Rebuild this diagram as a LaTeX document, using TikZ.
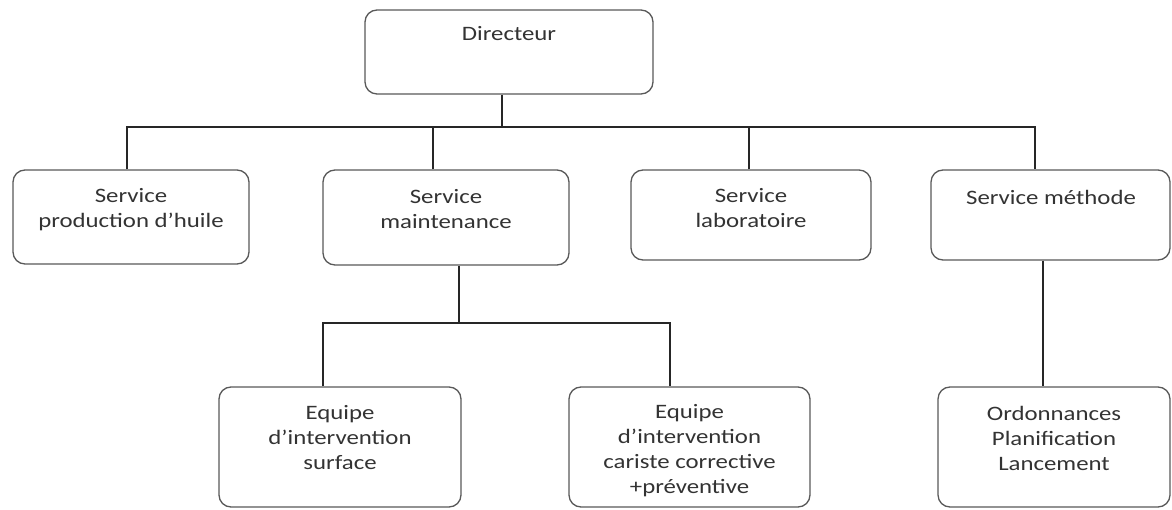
\documentclass[tikz,border=0pt]{standalone}
\usepackage{fontspec}
\setmainfont{Carlito}[FakeStretch=1.21]
\begin{document}
\begin{tikzpicture}[x=1pt,y=-1pt,
  orgbox/.style={draw=black!65, line width=1.3pt, rounded corners=12pt, inner sep=0pt, fill=white},
  txt/.style={font=\fontsize{20.5}{25}\selectfont, align=center, text=black!80, inner sep=0pt},
  link/.style={draw=black!85, line width=1.4pt}]
\useasboundingbox (0,0) rectangle (1172,510);
% boxes
\node[orgbox, minimum width=288pt, minimum height=84pt] (dir) at (509,52) {};
\node[orgbox, minimum width=236pt, minimum height=94pt] (prod) at (131,217) {};
\node[orgbox, minimum width=246pt, minimum height=95pt] (maint) at (446,217.5) {};
\node[orgbox, minimum width=240pt, minimum height=90pt] (lab) at (751,215) {};
\node[orgbox, minimum width=239pt, minimum height=90pt] (meth) at (1050.5,215) {};
\node[orgbox, minimum width=242pt, minimum height=120pt] (surf) at (340,447) {};
\node[orgbox, minimum width=241pt, minimum height=120pt] (car) at (689.5,447) {};
\node[orgbox, minimum width=232pt, minimum height=120pt] (ord) at (1054,447) {};
% texts
\node[txt] (tdir) at (509,34) {Directeur};
\node[txt] (tprod) at (131,209.5) {Service\\production d’huile};
\node[txt] (tmaint) at (446,209) {Service\\maintenance};
\node[txt] (tlab) at (751,208) {Service\\laboratoire};
\node[txt] (tmeth) at (1051,197) {Service méthode};
\node[txt] (tsurf) at (340,438) {Equipe\\d’intervention\\surface};
\node[txt] (tcar) at (689.5,451) {Equipe\\d’intervention\\cariste corrective\\+préventive};
\node[txt] (tord) at (1054,438) {Ordonnances\\Planification\\Lancement};
% attachment points
\coordinate (dirB) at ([xshift=-7pt]dir.south);
\coordinate (bus) at (0,127);
\coordinate (prodT) at ([xshift=-4pt]prod.north);
\coordinate (maintT) at ([xshift=-13pt]maint.north);
\coordinate (labT) at ([xshift=-2pt]lab.north);
\coordinate (methT) at ([xshift=-15.5pt]meth.north);
\coordinate (maintB) at ([xshift=13pt]maint.south);
\coordinate (bus2) at (0,323);
\coordinate (surfT) at ([xshift=-17pt]surf.north);
\coordinate (carT) at ([xshift=-19.5pt]car.north);
\coordinate (methB) at ([xshift=-7.5pt]meth.south);
\coordinate (ordT) at (methB |- ord.north);
% connectors
\draw[link] (prodT) -- (prodT |- bus) -| (methT);
\draw[link] (dirB) -- (dirB |- bus);
\draw[link] (maintT) -- (maintT |- bus);
\draw[link] (labT) -- (labT |- bus);
\draw[link] (maintB) -- (maintB |- bus2);
\draw[link] (surfT) -- (surfT |- bus2) -| (carT);
\draw[link] (methB) -- (ordT);
\end{tikzpicture}
\end{document}
